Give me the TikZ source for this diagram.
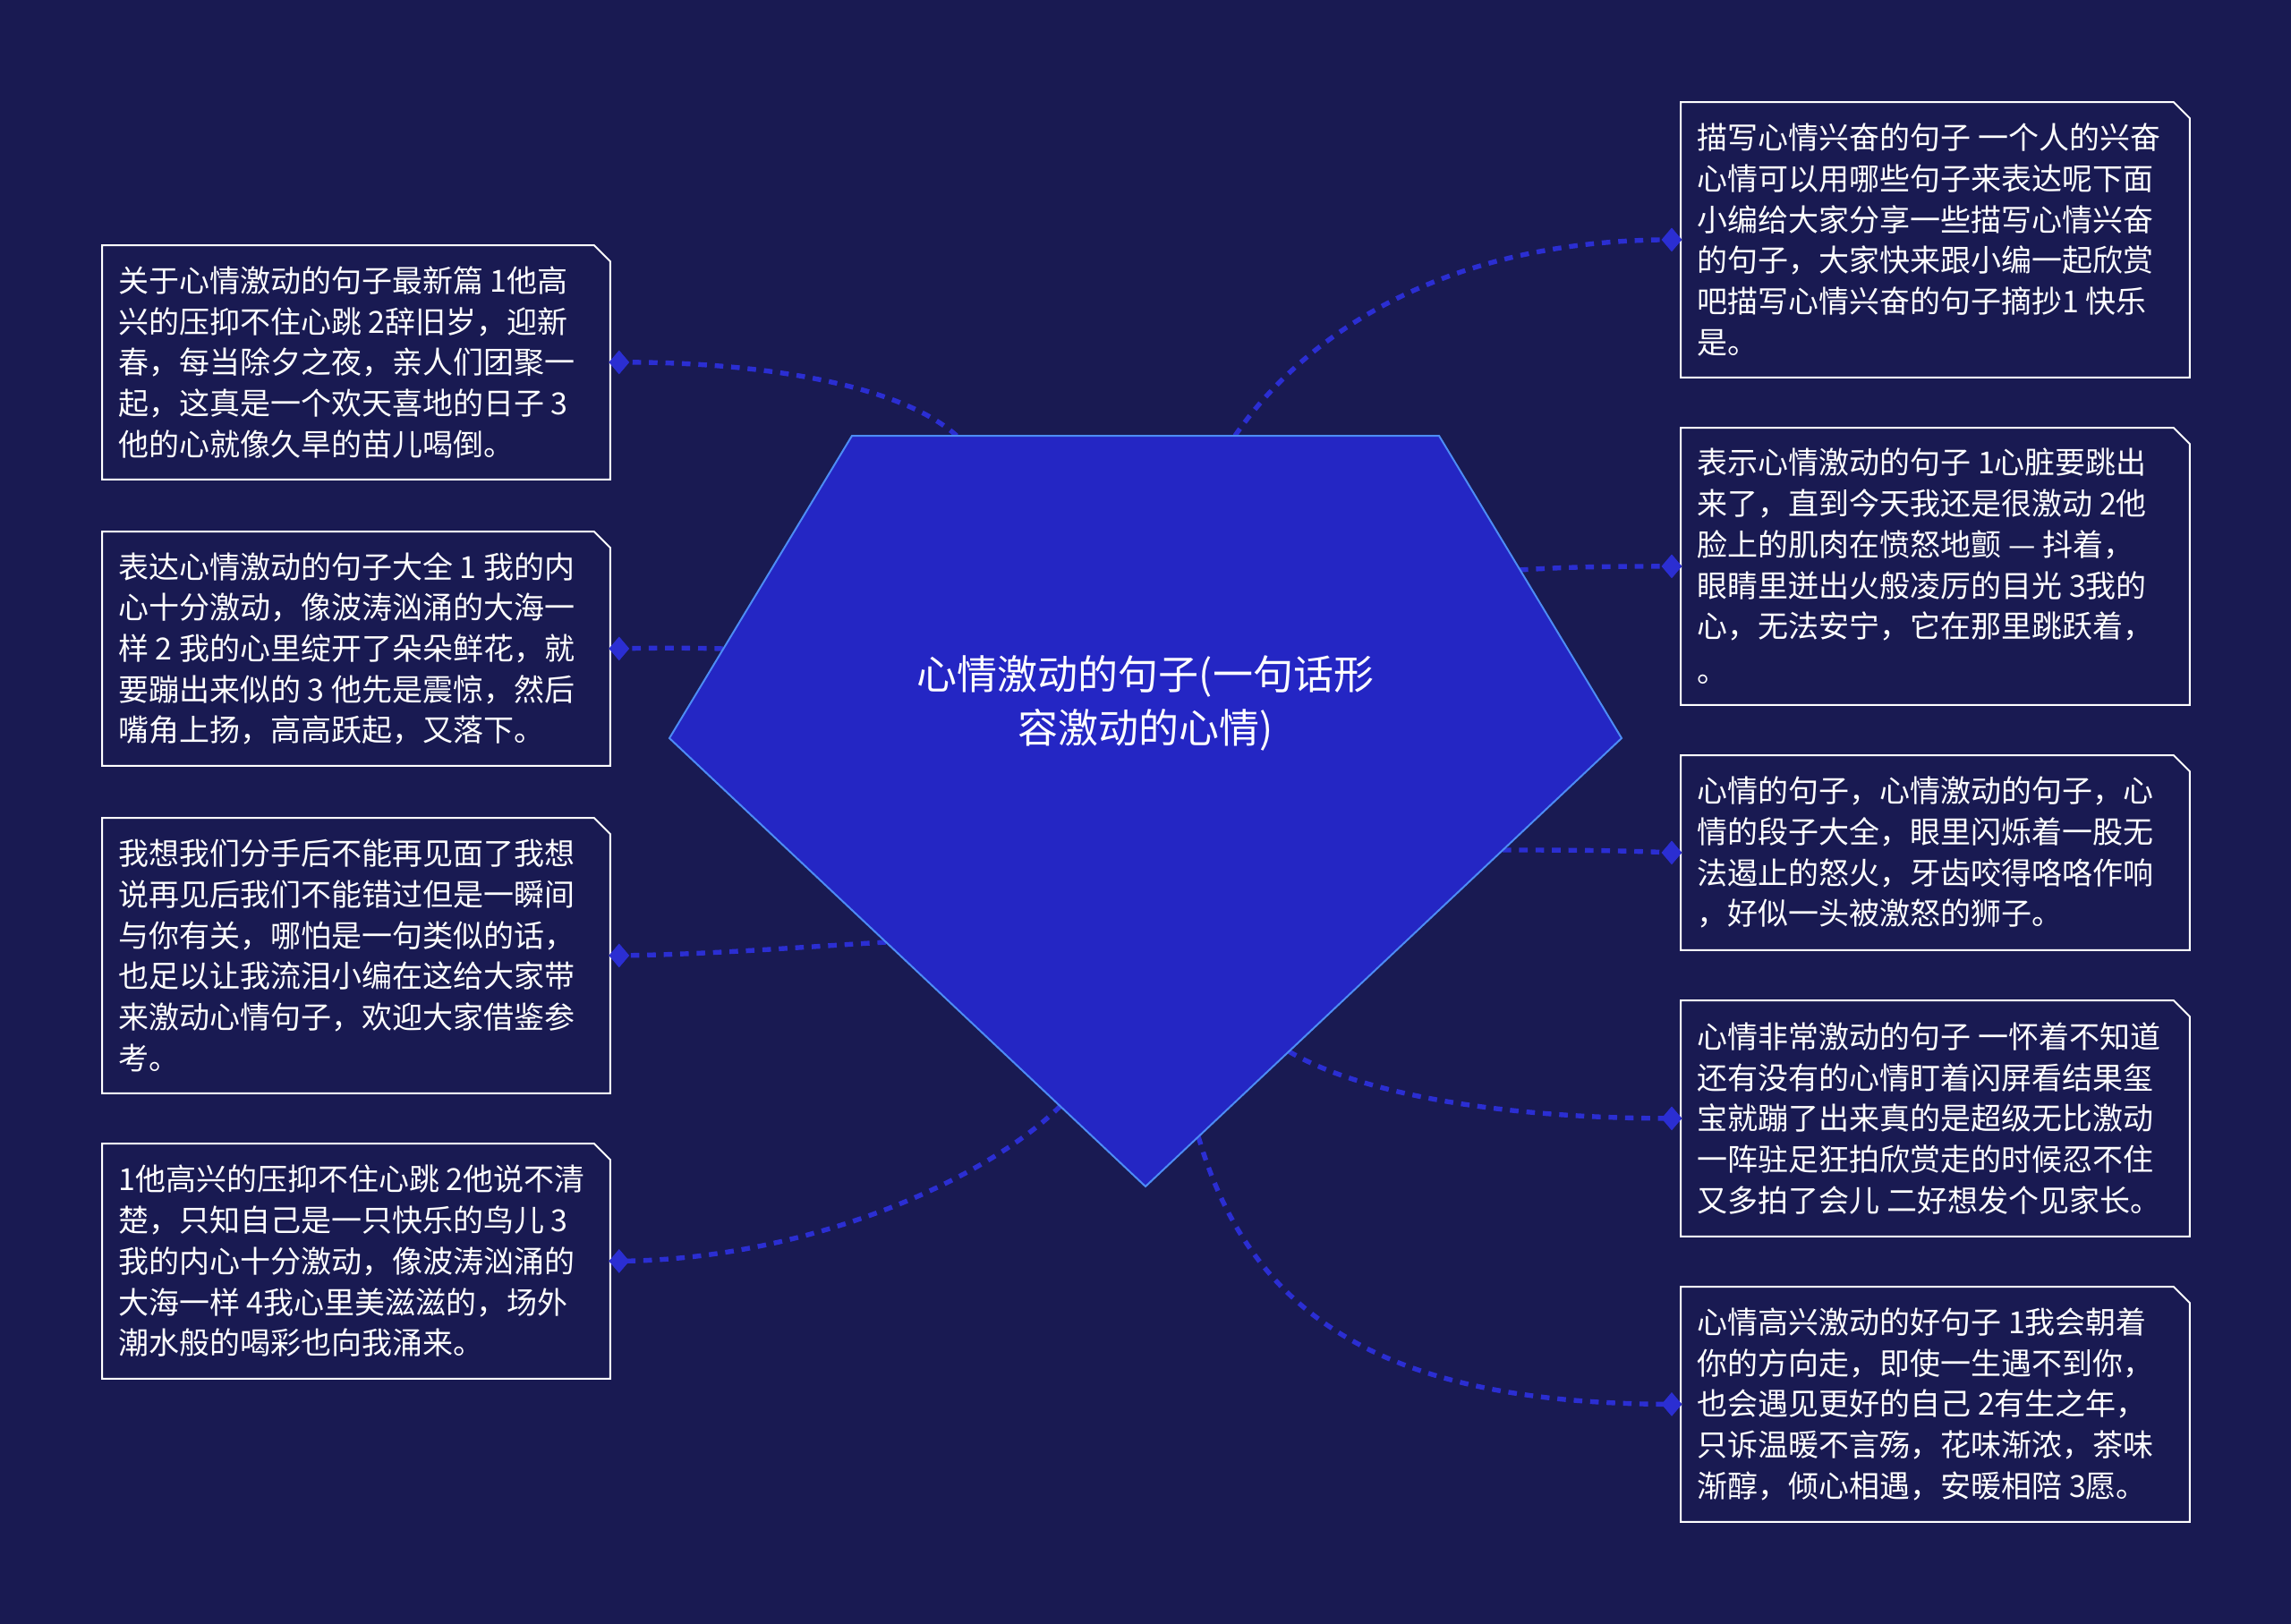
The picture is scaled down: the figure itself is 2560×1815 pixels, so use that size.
\documentclass[tikz,border=0pt]{standalone}
\usepackage{fontspec}
\setmainfont{Noto Sans CJK SC}
\usetikzlibrary{shapes.geometric}
\definecolor{bgc}{RGB}{25,26,82}
\definecolor{pentfill}{RGB}{36,38,196}
\definecolor{pentline}{RGB}{77,140,245}
\definecolor{connc}{RGB}{43,46,210}
\tikzset{
  cardbg/.style={rectangle, fill=bgc, draw=none, inner sep=0pt},
  cardline/.style={draw=white, line width=1pt, line join=miter},
  cardtext/.style={text=white, align=left, inner sep=0pt, font=\fontsize{17pt}{22.85pt}\selectfont},
  dmd/.style={diamond, fill=connc, draw=none, inner sep=0pt, minimum width=11pt, minimum height=13pt},
  conn/.style={draw=connc, line width=2.7pt, dash pattern=on 4.8pt off 4.4pt},
  roottext/.style={text=white, align=center, inner sep=0pt, font=\fontsize{22.5pt}{30pt}\selectfont}
}
\newcommand\cardbox[6]{%
  \node[cardbg, minimum width=#4*0.5pt, minimum height=#5*0.5pt, anchor=north west] (#1) at (#2,#3) {};
  \draw[cardline] (#1.south west) -- (#1.north west) -- ([xshift=-9pt]#1.north east) -- ([yshift=-9pt]#1.north east) -- (#1.south east) -- cycle;
  \node[cardtext, anchor=west] (#1t) at ([xshift=9pt]#1.west) {#6};
}
\begin{document}
\begin{tikzpicture}[x=0.5pt,y=-0.5pt]
\fill[bgc] (0,0) rectangle (2560,1815);
\useasboundingbox (0,0) rectangle (2560,1815);

% pentagon corners
\coordinate (TL) at (952,487);
\coordinate (TR) at (1608,487);
\coordinate (RR) at (1812,825);
\coordinate (BB) at (1280,1326);
\coordinate (LL) at (748,825);

% connector start points on pentagon edges
\coordinate (pL1) at (1069,487);
\coordinate (pL2) at (808,725);
\coordinate (pL3) at (990,1053);
\coordinate (pL4) at (1185,1236);
\coordinate (pR1) at (1380,487);
\coordinate (pR2) at (1698,637);
\coordinate (pR3) at (1679,950);
\coordinate (pR4) at (1440,1175);
\coordinate (pR5) at (1339,1270);

% boxes
\cardbox{L1}{114}{274}{567}{261}{关于心情激动的句子最新篇 1他高\\兴的压抑不住心跳 2辞旧岁，迎新\\春，每当除夕之夜，亲人们团聚一\\起，这真是一个欢天喜地的日子 3\\他的心就像久旱的苗儿喝倒。}
\cardbox{L2}{114}{594}{567}{261}{表达心情激动的句子大全 1 我的内\\心十分激动，像波涛汹涌的大海一\\样 2 我的心里绽开了朵朵鲜花，就\\要蹦出来似的 3 他先是震惊，然后\\嘴角上扬，高高跃起，又落下。}
\cardbox{L3}{114}{914}{567}{307}{我想我们分手后不能再见面了我想\\说再见后我们不能错过但是一瞬间\\与你有关，哪怕是一句类似的话，\\也足以让我流泪小编在这给大家带\\来激动心情句子，欢迎大家借鉴参\\考。}
\cardbox{L4}{114}{1278}{567}{262}{1他高兴的压抑不住心跳 2他说不清\\楚，只知自己是一只快乐的鸟儿 3\\我的内心十分激动，像波涛汹涌的\\大海一样 4我心里美滋滋的，场外\\潮水般的喝彩也向我涌来。}
\cardbox{R1}{1878}{114}{568}{307}{描写心情兴奋的句子 一个人的兴奋\\心情可以用哪些句子来表达呢下面\\小编给大家分享一些描写心情兴奋\\的句子，大家快来跟小编一起欣赏\\吧描写心情兴奋的句子摘抄1 快乐\\是。}
\cardbox{R2}{1878}{478}{568}{309}{表示心情激动的句子 1心脏要跳出\\来了，直到今天我还是很激动 2他\\脸上的肌肉在愤怒地颤 — 抖着，\\眼睛里迸出火般凌厉的目光 3我的\\心，无法安宁，它在那里跳跃着，\\[2pt]。}
\cardbox{R3}{1878}{844}{568}{217}{心情的句子，心情激动的句子，心\\情的段子大全，眼里闪烁着一股无\\法遏止的怒火，牙齿咬得咯咯作响\\，好似一头被激怒的狮子。}
\cardbox{R4}{1878}{1118}{568}{263}{心情非常激动的句子 一怀着不知道\\还有没有的心情盯着闪屏看结果玺\\宝就蹦了出来真的是超级无比激动\\一阵驻足狂拍欣赏走的时候忍不住\\又多拍了会儿 二好想发个见家长。}
\cardbox{R5}{1878}{1438}{568}{262}{心情高兴激动的好句子 1我会朝着\\你的方向走，即使一生遇不到你，\\也会遇见更好的自己 2有生之年，\\只诉温暖不言殇，花味渐浓，茶味\\渐醇，倾心相遇，安暖相陪 3愿。}

% diamonds
\node[dmd] (dL1) at ([xshift=5pt]L1.east) {};
\node[dmd] (dL2) at ([xshift=5pt]L2.east) {};
\node[dmd] (dL3) at ([xshift=5pt]L3.east) {};
\node[dmd] (dL4) at ([xshift=5pt]L4.east) {};
\node[dmd] (dR1) at ([xshift=-5pt]R1.west) {};
\node[dmd] (dR2) at ([xshift=-5pt]R2.west) {};
\node[dmd] (dR3) at ([xshift=-5pt]R3.west) {};
\node[dmd] (dR4) at ([xshift=-5pt]R4.west) {};
\node[dmd] (dR5) at ([xshift=-5pt]R5.west) {};

% connectors
\draw[conn] (pL1) .. controls (1000,425) and (830,404) .. (dL1.center);
\draw[conn] (pL2) .. controls (770,724) and (730,724) .. (dL2.center);
\draw[conn] (pL3) .. controls (900,1058) and (790,1067) .. (dL3.center);
\draw[conn] (pL4) .. controls (1100,1320) and (900,1408) .. (dL4.center);
\draw[conn] (pR1) .. controls (1450,385) and (1600,268) .. (dR1.center);
\draw[conn] (pR2) .. controls (1760,633) and (1810,633) .. (dR2.center);
\draw[conn] (pR3) .. controls (1740,950) and (1800,950) .. (dR3.center);
\draw[conn] (pR4) .. controls (1530,1228) and (1700,1250) .. (dR4.center);
\draw[conn] (pR5) .. controls (1400,1480) and (1560,1569) .. (dR5.center);

% pentagon
\draw[fill=pentfill, draw=pentline, line width=1pt, line join=miter] (TL) -- (TR) -- (RR) -- (BB) -- (LL) -- cycle;
\node[roottext] (root) at (1280,786) {心情激动的句子(一句话形\\容激动的心情)};

% diamonds on top
\foreach \d in {dL1,dL2,dL3,dL4,dR1,dR2,dR3,dR4,dR5}{\fill[connc] (\d.north) -- (\d.east) -- (\d.south) -- (\d.west) -- cycle;}
\end{tikzpicture}
\end{document}
